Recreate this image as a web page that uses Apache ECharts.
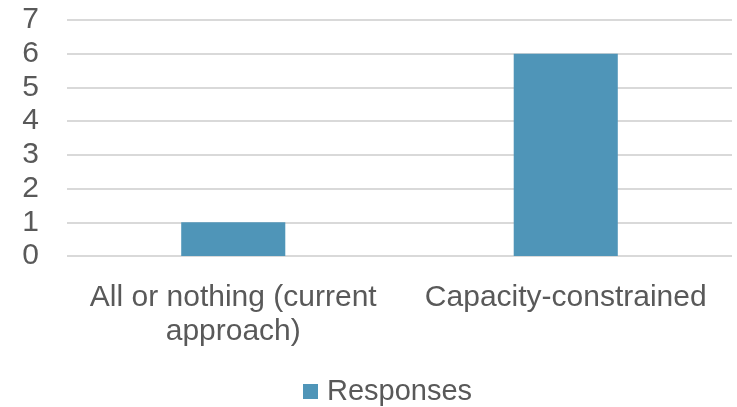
<!DOCTYPE html>
<html><head><meta charset="utf-8">
<script src="https://cdn.jsdelivr.net/npm/echarts@6/dist/echarts.min.js"></script>
<style>html,body{margin:0;padding:0;background:#fff}#c{width:737px;height:407px}</style>
</head><body><div id="c"></div>
<script>
var categories = ["All or nothing (current\napproach)", "Capacity-constrained"];
var responses = [1, 6];
var seriesName = "Responses";
var chart = echarts.init(document.getElementById('c'));
var font = "'Liberation Sans', Arial, sans-serif";
chart.setOption({
  animation: false,
  grid: {left: 67, right: 5, top: 20, bottom: 151},
  legend: {top: 372, left: 298, itemWidth: 15, itemHeight: 15, itemGap: 10,
    icon: 'rect',
    textStyle: {fontSize: 29, color: '#595959', fontFamily: font, padding: [0, 0, 0, 4]},
    data: [seriesName]},
  xAxis: {type: 'category', data: categories,
    axisLine: {show: false}, axisTick: {show: false},
    axisLabel: {interval: 0, fontSize: 30, color: '#595959', fontFamily: font, margin: 25, lineHeight: 34}},
  yAxis: {type: 'value', min: 0, max: 7, interval: 1,
    axisLine: {show: false}, axisTick: {show: false},
    axisLabel: {fontSize: 30, color: '#595959', fontFamily: font, margin: 28},
    splitLine: {lineStyle: {color: '#d9d9d9', width: 2}}},
  series: [{name: seriesName, type: 'bar', data: responses, barWidth: '31.3%',
    itemStyle: {color: '#4f95b8'}}]
});
</script></body></html>
